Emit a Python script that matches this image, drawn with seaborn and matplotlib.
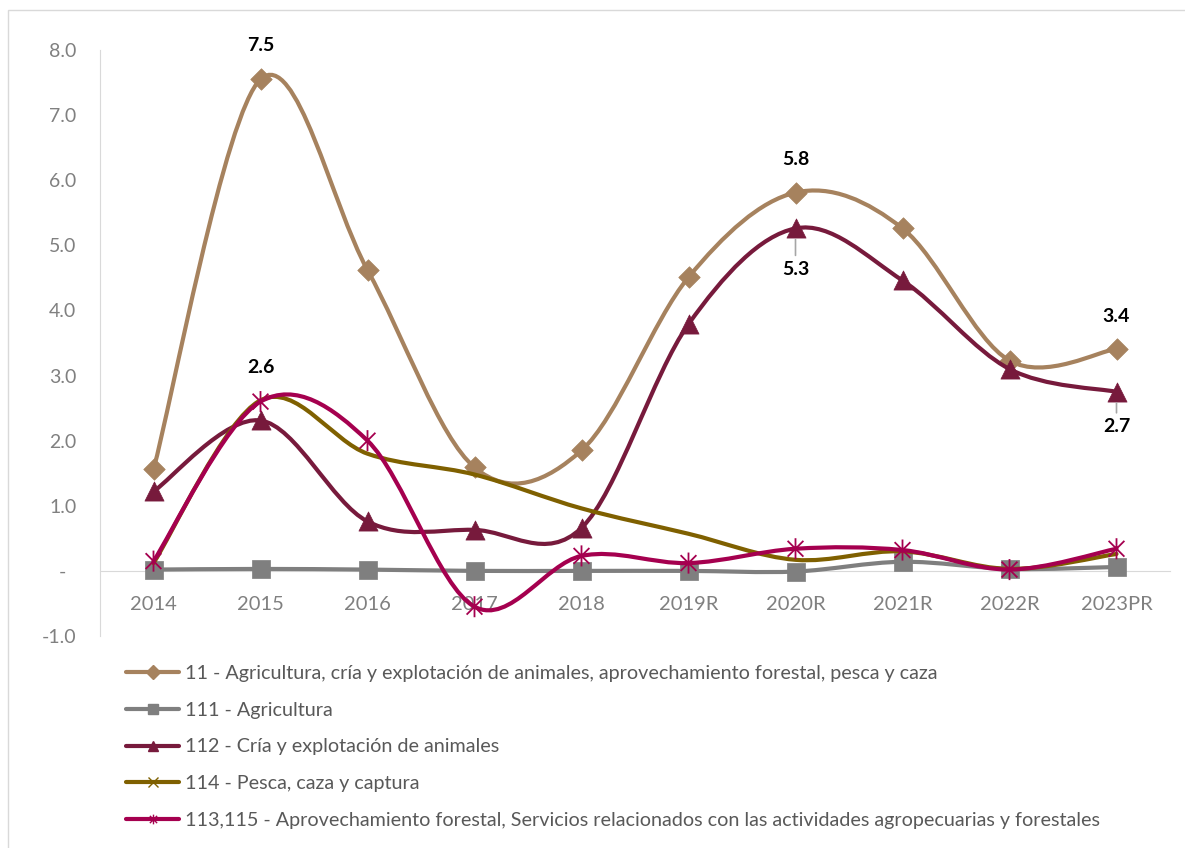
import matplotlib
matplotlib.use("Agg")
import numpy as np
import pandas as pd
import matplotlib.pyplot as plt
import seaborn as sns
from matplotlib.path import Path
from matplotlib.patches import PathPatch, Rectangle
from matplotlib.lines import Line2D

# ==========================================
# DATA
# ==========================================

years = ["2014", "2015", "2016", "2017", "2018", "2019R", "2020R", "2021R", "2022R", "2023PR"]

sector_11 = [1.56, 7.55, 4.62, 1.59, 1.85, 4.51, 5.81, 5.26, 3.23, 3.41]
sub_111 = [0.02, 0.03, 0.02, 0.00, 0.00, 0.00, -0.01, 0.14, 0.03, 0.06]
sub_112 = [1.22, 2.31, 0.76, 0.63, 0.66, 3.79, 5.26, 4.46, 3.10, 2.75]
sub_114 = [0.12, 2.62, 1.80, 1.48, 0.96, 0.57, 0.17, 0.30, 0.03, 0.26]
sub_113_115 = [0.15, 2.60, 2.00, -0.55, 0.23, 0.12, 0.34, 0.32, 0.02, 0.34]

names = [
    "11 - Agricultura, cría y explotación de animales, aprovechamiento forestal, pesca y caza",
    "111 - Agricultura",
    "112 - Cría y explotación de animales",
    "114 - Pesca, caza y captura",
    "113,115 - Aprovechamiento forestal, Servicios relacionados con las actividades agropecuarias y forestales",
]
values = [sector_11, sub_111, sub_112, sub_114, sub_113_115]
colors = ["#A6825E", "#7F7F7F", "#771A3C", "#7F6000", "#A5004F"]

# labels shown on the chart: (series index, year index, text, pixel offset)
data_labels = [
    (0, 1, "7.5", 34),
    (3, 1, "2.6", 33),
    (0, 6, "5.8", 33),
    (2, 6, "5.3", -41),
    (0, 9, "3.4", 32),
    (2, 9, "2.7", -35),
]

# asterisk marker like Excel (x plus vertical bar)
star = Path(
    [(0, -1), (0, 1), (-0.75, -0.75), (0.75, 0.75), (-0.75, 0.75), (0.75, -0.75)],
    [Path.MOVETO, Path.LINETO] * 3,
)
markers = ["D", "s", "^", "x", star]
marker_sizes = [120, 150, 190, 120, 230]

df = pd.DataFrame({
    "year": np.tile(years, len(names)),
    "pos": np.tile(np.arange(len(years)), len(names)),
    "serie": np.repeat(names, len(years)),
    "value": np.concatenate(values),
})

# ==========================================
# STYLE
# ==========================================

sns.set_style("white")
plt.rcParams["font.family"] = ["Lato", "DejaVu Sans"]


def smooth_path(xs, ys):
    # Excel-like smoothed line (Catmull-Rom as cubic Bezier)
    pts = np.column_stack([xs, ys]).astype(float)
    n = len(pts)
    verts = [pts[0]]
    codes = [Path.MOVETO]
    for i in range(n - 1):
        p0 = pts[i - 1] if i > 0 else pts[i]
        p1 = pts[i]
        p2 = pts[i + 1]
        p3 = pts[i + 2] if i + 2 < n else pts[i + 1]
        verts += [p1 + (p2 - p0) / 6, p2 - (p3 - p1) / 6, p2]
        codes += [Path.CURVE4] * 3
    return Path(verts, codes)


# ==========================================
# PLOT
# ==========================================

fig = plt.figure(figsize=(11.85, 8.48), dpi=100)
ax = fig.add_axes([100 / 1185, 1 - 636 / 848, 1070 / 1185, 586 / 848])

for i, name in enumerate(names):
    sub = df[df["serie"] == name]
    patch = PathPatch(smooth_path(sub["pos"], sub["value"]), facecolor="none",
                      edgecolor=colors[i], lw=3, zorder=3 + 2 * i, capstyle="round")
    ax.add_patch(patch)
    filled = markers[i] != "x" and markers[i] is not star
    sns.scatterplot(
        data=sub, x="pos", y="value", ax=ax,
        marker=markers[i], s=marker_sizes[i],
        color=colors[i], edgecolor=colors[i],
        facecolor=colors[i] if filled else "none",
        linewidth=1.3 if not filled else 0.5,
        zorder=4 + 2 * i, legend=False,
    )

for si, yi, text, off in data_labels:
    ax.annotate(text, (yi, values[si][yi]), xytext=(0, off), textcoords="offset pixels",
                ha="center", va="center", fontsize=14, fontweight="bold", color="black",
                zorder=20)
    if off < 0:
        ax.annotate("", (yi, values[si][yi]), xytext=(0, off + 14), textcoords="offset pixels",
                    arrowprops=dict(arrowstyle="-", color="#A6A6A6", lw=1.2,
                                    shrinkA=0, shrinkB=8), zorder=19)

ax.set_xlim(-0.5, len(years) - 0.5)
ax.set_ylim(-1, 8)
ax.set_xticks(range(len(years)))
ax.set_xticklabels(years)
ax.set_yticks(range(-1, 9))
ax.set_yticklabels(["-1.0", "-  "] + [f"{v:.1f}" for v in range(1, 9)])
ax.set_xlabel("")
ax.set_ylabel("")

ax.spines["top"].set_visible(False)
ax.spines["right"].set_visible(False)
ax.spines["left"].set_color("#D9D9D9")
ax.spines["bottom"].set_color("#D9D9D9")
ax.spines["bottom"].set_position(("data", 0))
ax.tick_params(axis="x", length=0, pad=18, labelsize=14.5, labelcolor="#808080")
ax.tick_params(axis="y", length=0, pad=17, labelsize=14, labelcolor="#808080")

# legend below the plot
handles = [
    Line2D([0], [0], color=colors[i], lw=3,
           marker=markers[i], markersize=7,
           markerfacecolor=colors[i], markeredgecolor=colors[i])
    for i in range(len(names))
]
fig.legend(handles, names, loc="upper left", bbox_to_anchor=(126 / 1185, 1 - 665 / 848),
           frameon=False, fontsize=14.2, labelcolor="#595959", handlelength=2.7,
           handletextpad=0.3, labelspacing=1.0, borderpad=0, borderaxespad=0)

# chart border
fig.patches.append(Rectangle((8 / 1185, -0.5), 2, 1.5 - 10 / 848, transform=fig.transFigure,
                             fill=False, edgecolor="#D9D9D9", lw=1))

plt.savefig("out.png", dpi=100)
plt.close()
